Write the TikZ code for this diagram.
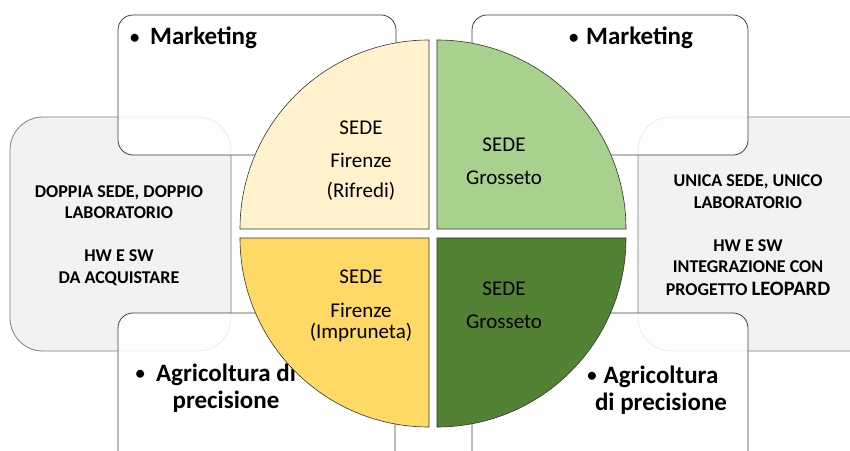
\documentclass[tikz,border=0pt]{standalone}
\usepackage{fontspec}
\setmainfont{Carlito}
\definecolor{cream}{HTML}{FFF2CC}
\definecolor{sage}{HTML}{A9D18E}
\definecolor{straw}{HTML}{FFD966}
\definecolor{forest}{HTML}{548235}
\definecolor{notefill}{HTML}{F2F2F2}
\newcommand{\dotmark}{\raisebox{1.8pt}{\scalebox{0.75}{\textbullet}}}
\begin{document}
\begin{tikzpicture}[x=1pt,y=1pt,
    note/.style={draw=black!50, line width=0.8pt, fill=notefill, rounded corners=33pt},
    panel/.style={draw=black!75, line width=0.8pt, fill=white, fill opacity=0.85, rounded corners=15pt},
    quarter/.style={draw=black!80, line width=0.6pt},
    topic/.style={font=\bfseries\fontsize{25}{27}\selectfont, align=center, inner sep=0pt},
    notetext/.style={font=\bfseries\fontsize{18}{21.5}\selectfont, align=center, inner sep=0pt},
    sede/.style={font=\fontsize{21}{25}\selectfont, align=center, inner sep=0pt}]
    \clip (0,0) rectangle (850,450);
    % grey notes behind
    \draw[note] (10,99) rectangle (231,333);
    \draw[note] (638,99) rectangle (890,333);
    % white panels
    \draw[panel] (118,295) rectangle (396,435);
    \draw[panel] (472,295) rectangle (748,435);
    \draw[panel] (118,-30) rectangle (395,137);
    \draw[panel] (472,-30) rectangle (748,137);
    \node[notetext, anchor=base] (noteleft) at (119,167) {DOPPIA SEDE, DOPPIO\\LABORATORIO\\[21.5pt]HW E SW\\DA ACQUISTARE};
    \node[notetext, anchor=base] (noteright) at (748,155) {UNICA SEDE, UNICO\\LABORATORIO\\[21.5pt]HW E SW\\INTEGRAZIONE CON\\[1pt]PROGETTO {\fontsize{20.5}{24}\selectfont LEOPARD}};
    \node[topic, anchor=base west] (mktleft) at (130,405) {\makebox[20pt][l]{\dotmark}Marketing};
    \node[topic, anchor=base west] (mktright) at (569,405) {\makebox[17pt][l]{\dotmark}Marketing};
    \node[topic, anchor=base] (agrleft) at (226,42) {\llap{\dotmark\hspace{11pt}}Agricoltura di\\precisione};
    \node[topic, anchor=base] (agrright) at (661,40) {\llap{\dotmark\hspace{7pt}}Agricoltura\\di precisione};
    % the four quarters
    \draw[quarter, fill=cream] (429,221) -- (240,221) arc[start angle=180, end angle=90, radius=189] -- cycle;
    \draw[quarter, fill=sage] (437,221) -- (437,410) arc[start angle=90, end angle=0, radius=189] -- cycle;
    \draw[quarter, fill=straw] (429,212) -- (240,212) arc[start angle=180, end angle=270, radius=189] -- cycle;
    \draw[quarter, fill=forest] (437,212) -- (626,212) arc[start angle=0, end angle=-90, radius=189] -- cycle;
    \node[sede, anchor=base] (rifredi) at (361,252) {SEDE\\[8pt]Firenze\\[5pt](Rifredi)};
    \node[sede, anchor=base] (grossetotop) at (504,265) {SEDE\\[8pt]Grosseto};
    \node[sede, anchor=base] (impruneta) at (361,112) {SEDE\\[9pt]Firenze\\[-4pt](Impruneta)};
    \node[sede, anchor=base] (grossetobottom) at (504,122) {SEDE\\[8pt]Grosseto};
\end{tikzpicture}
\end{document}
